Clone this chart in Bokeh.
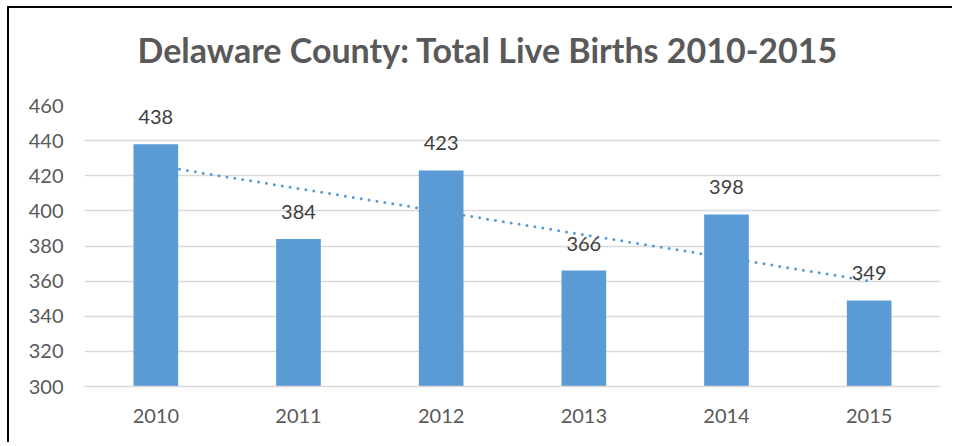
import numpy as np
from bokeh.plotting import figure
from bokeh.layouts import column
from bokeh.models import ColumnDataSource, FactorRange, Range1d, FixedTicker, LabelSet, Title
from bokeh.core.properties import value
from bokeh.embed import file_html
from bokeh.resources import INLINE

# ---- data ----
years = ["2010", "2011", "2012", "2013", "2014", "2015"]
births = [438, 384, 423, 366, 398, 349]
y_ticks = [300, 320, 340, 360, 380, 400, 420, 440, 460]
title_text = "Delaware County: Total Live Births 2010-2015"

# linear trendline (least squares fit, as in the spreadsheet trendline)
xi = np.arange(1, len(births) + 1)
slope, intercept = np.polyfit(xi, births, 1)
trend = list(slope * xi + intercept)

FONT = "Lato"
GRAY = "#595959"
BAR = "#5b9bd5"

p = figure(
    width=945, height=436,
    x_range=FactorRange(*years, range_padding=0),
    y_range=Range1d(300, 460),
    output_backend="svg", toolbar_location=None,
    min_border_left=75, min_border_right=14, min_border_top=97, min_border_bottom=58,
)
p.styles = {"border-top": "2px solid black", "border-left": "2px solid black",
            "border-right": "0px none", "border-bottom": "0px none"}
p.background_fill_color = "white"
p.border_fill_color = "white"
p.outline_line_color = None

# spacer between plot area and title, then the title itself (further from frame)
p.add_layout(Title(text=" ", text_font=FONT, text_font_size="10px", standoff=22), "above")
p.add_layout(Title(text=title_text, align="left", offset=53, text_font=FONT,
                   text_font_style="bold", text_font_size="34px", text_color=GRAY,
                   standoff=0), "above")

# trend line (drawn behind bars)
p.line(x=years, y=trend, line_color=BAR, line_width=3, line_dash="0 8", line_cap="round")

src = ColumnDataSource(dict(year=years, births=births, lab=[str(b) for b in births]))
p.vbar(x="year", top="births", bottom=300, width=0.313, source=src,
       fill_color=BAR, line_color=None)

labels = LabelSet(x="year", y="births", text="lab", source=src,
                  text_align="center", text_baseline="bottom", y_offset=20,
                  text_font=value(FONT), text_font_size=value("20px"), text_color=value("#404040"))
p.add_layout(labels)

# axes
p.yaxis.ticker = FixedTicker(ticks=y_ticks)
p.yaxis.axis_line_color = None
p.yaxis.major_tick_line_color = None
p.yaxis.minor_tick_line_color = None
p.yaxis.major_label_standoff = 15
p.yaxis.major_label_text_font = FONT
p.yaxis.major_label_text_font_size = "20px"
p.yaxis.major_label_text_color = GRAY

p.xaxis.axis_line_color = "#d9d9d9"
p.xaxis.axis_line_width = 1.5
p.xaxis.major_tick_line_color = None
p.xaxis.minor_tick_line_color = None
p.xaxis.major_label_standoff = 16
p.xaxis.major_label_text_font = FONT
p.xaxis.major_label_text_font_size = "20px"
p.xaxis.major_label_text_color = GRAY

p.xgrid.grid_line_color = None
p.ygrid.grid_line_color = "#d9d9d9"
p.ygrid.grid_line_width = 1.5

root = column(p, styles={"padding-top": "6px", "padding-left": "7px"})

open("out.html", "w").write(file_html(root, INLINE))
